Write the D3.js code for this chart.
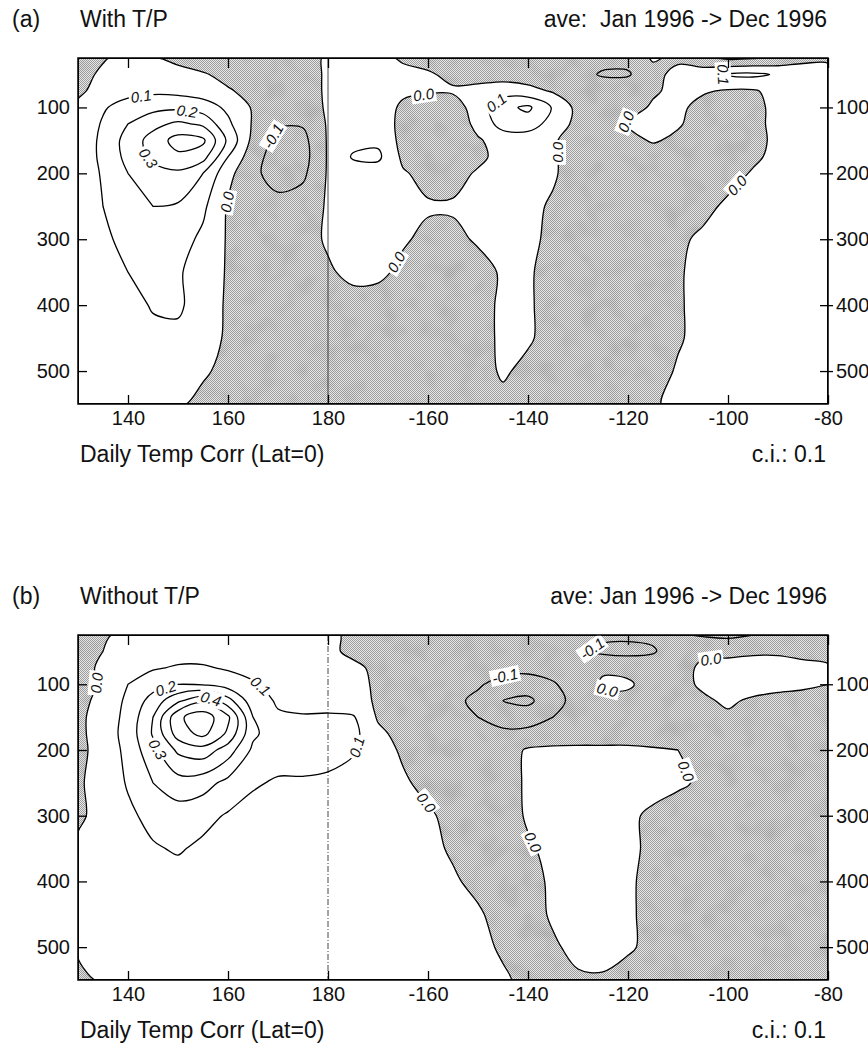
<!DOCTYPE html>
<html>
<head>
<meta charset="utf-8">
<script src="https://cdn.jsdelivr.net/npm/d3@7"></script>
<style>
body { margin: 0; background: #fff; }
text { font-family: "Liberation Sans", Arial, Helvetica, sans-serif; fill: #111; }
</style>
</head>
<body>
<svg id="chart" width="868" height="1045"></svg>
<script>
// grid columns (longitude, degrees east) and rows (depth, m)
var lons = [130,135,140,145,150,155,160,165,170,175,180,185,190,195,200,205,210,215,220,225,230,235,240,245,250,255,260,265,270,275,280];
var depths = [25,50,75,100,125,150,175,200,250,300,350,400,450,500,550];

// correlation x 100, one row per depth
var corrWith = [
  [-5,-1,3,1,-3,-6,-7,-6,-5,-3,1,3,2,-1,-3,-4,-5,-5,-5,-5,-5,-7,-7,1,-2,-8,-12,-11,-8,-4,-2],
  [-4,2,5,6,4,1,-3,-5,-5,-3,1,3,3,2,1,-2,-4,-4,-5,-6,-7,-11,-11,-3,3,6,11,12,9,8,4],
  [-2,4,7,8,7,5,1,-3,-4,-3,1,3,3,1,1,1,3,5,3,-1,-3,-4,-3,-1,2,1,-1,-1,3,4,4],
  [2,9,14,17,18,15,8,-1,-4,-4,1,3,3,-1,-5,-4,4,17,22,9,-3,-5,-3,1,2,-3,-5,-3,3,4,4],
  [3,11,20,27,32,28,12,-1,-9,-9,1,3,4,-2,-7,-7,3,14,15,6,-3,-5,1,3,1,-4,-6,-3,3,4,4],
  [4,12,24,34,44,42,18,-3,-13,-13,1,7,8,-3,-8,-8,-1,4,4,1,-4,-6,-3,1,-2,-5,-7,-4,3,4,4],
  [4,12,23,32,38,34,10,-6,-15,-14,1,11,12,-2,-8,-7,-2,3,3,1,-4,-7,-6,-5,-6,-7,-6,-2,3,4,4],
  [4,11,20,27,28,20,3,-8,-14,-12,1,5,5,1,-3,-3,1,3,3,1,-4,-7,-8,-8,-8,-7,-4,1,3,4,4],
  [3,10,16,20,19,12,-1,-6,-7,-5,1,4,4,2,1,1,2,3,2,-1,-5,-8,-9,-9,-7,-3,2,3,4,4,4],
  [2,8,13,15,14,8,-1,-4,-5,-3,1,3,3,1,-2,-2,1,3,2,-2,-6,-8,-9,-8,-2,2,3,4,4,4,4],
  [1,5,10,12,11,6,-1,-4,-5,-4,-1,2,2,-2,-4,-4,-3,1,1,-3,-6,-8,-8,-6,-1,3,4,4,4,4,4],
  [1,3,6,11,12,4,-1,-5,-6,-5,-4,-3,-4,-5,-5,-4,-2,1,1,-3,-6,-7,-7,-6,-1,3,4,4,4,4,4],
  [2,3,5,7,7,3,-1,-5,-6,-6,-5,-5,-5,-5,-5,-4,-2,1,1,-3,-6,-7,-7,-5,-1,3,4,4,4,4,4],
  [2,3,4,4,3,1,-2,-5,-6,-6,-6,-6,-6,-5,-5,-4,-3,1,-2,-5,-6,-7,-7,-4,1,3,4,4,4,4,4],
  [2,2,2,2,1,-2,-4,-5,-5,-5,-5,-5,-5,-5,-5,-4,-4,-2,-4,-5,-5,-5,-5,-1,2,3,3,3,3,3,3]
];

var corrWithout = [
  [-6,-1,2,3,3,3,3,3,2,2,1,-1,-3,-4,-5,-5,-6,-6,-6,-6,-7,-8,-8,-8,-9,-11,-12,-10,-8,-5,-4],
  [-5,0,3,5,6,6,5,4,3,2,1,-1,-3,-4,-5,-5,-6,-6,-7,-8,-9,-12,-13,-11,-4,-1,-2,-1,-1,-2,-3],
  [-4,2,6,9,11,11,9,7,5,3,2,1,-1,-3,-5,-5,-6,-7,-7,-6,-3,-1,-2,-4,-2,1,3,3,3,2,1],
  [-3,1,10,16,20,19,15,11,7,5,3,2,-1,-3,-5,-6,-9,-13,-15,-11,-5,1,1,-3,-2,1,3,3,2,1,0],
  [-3,3,12,24,38,48,34,14,9,6,4,3,-1,-4,-6,-8,-12,-20,-22,-14,-6,-2,-2,-4,-3,-1,1,-1,-2,-2,-2],
  [-2,4,13,30,58,66,52,20,11,11,12,11,-1,-5,-7,-8,-10,-14,-15,-10,-5,-4,-4,-4,-4,-3,-1,-3,-3,-3,-3],
  [-2,4,14,31,55,63,48,22,14,14,15,13,2,-3,-5,-7,-8,-8,-7,-6,-5,-5,-5,-5,-4,-3,-2,-3,-3,-3,-3],
  [-2,3,13,27,42,46,35,18,14,14,14,11,3,-1,-4,-6,-6,-4,1,2,2,2,2,1,0,-2,-3,-4,-4,-4,-4],
  [-1,3,11,20,26,24,17,11,9,9,8,6,3,1,-2,-4,-5,-3,1,3,3,3,3,2,1,-1,-3,-5,-5,-5,-5],
  [-1,2,8,13,15,13,9,7,6,5,5,4,3,2,1,-2,-4,-4,1,3,3,2,1,-1,-3,-4,-5,-5,-5,-5,-5],
  [1,2,6,9,11,8,6,5,4,4,4,3,3,2,2,-1,-3,-4,-1,2,3,3,1,-1,-3,-5,-5,-5,-5,-5,-5],
  [2,3,4,6,6,5,5,4,4,4,3,3,3,3,3,1,-2,-4,-2,1,3,3,1,-2,-3,-5,-5,-5,-5,-5,-5],
  [2,3,4,5,5,5,4,4,4,3,3,3,3,3,3,2,1,-3,-3,1,2,3,1,-2,-3,-5,-5,-5,-5,-5,-5],
  [1,2,3,4,4,4,4,3,3,3,3,3,3,2,2,2,2,-1,-3,-1,2,3,1,-2,-3,-5,-5,-5,-5,-5,-5],
  [-2,1,2,3,3,3,3,3,3,3,3,2,2,2,2,2,2,1,-2,-3,-1,-1,-3,-3,-4,-5,-5,-5,-5,-5,-5]
];

// contour levels (x 100), c.i. 0.1
var levels = [-30,-20,-10,0,10,20,30,40,50,60];

var xTicks = [140,160,180,200,220,240,260,280];
var xTickLabels = ["140","160","180","-160","-140","-120","-100","-80"];
var yTicks = [100,200,300,400,500];

var svg = d3.select("#chart");
var defs = svg.append("defs");

// stippled grey for negative correlation
var pat = defs.append("pattern")
  .attr("id", "stipple")
  .attr("patternUnits", "userSpaceOnUse")
  .attr("width", 2)
  .attr("height", 2);
pat.append("rect").attr("width", 2).attr("height", 2).attr("fill", "#e8e8e8");
pat.append("rect").attr("width", 1).attr("height", 1).attr("fill", "#9c9c9c");
pat.append("rect").attr("x", 1).attr("y", 1).attr("width", 1).attr("height", 1).attr("fill", "#9c9c9c");

// blotchy darker patches like the printed halftone
var mottle = defs.append("filter")
  .attr("id", "mottle")
  .attr("x", 0).attr("y", 0).attr("width", 1).attr("height", 1);
mottle.append("feTurbulence")
  .attr("type", "fractalNoise")
  .attr("baseFrequency", 0.05)
  .attr("numOctaves", 2)
  .attr("seed", 7);
mottle.append("feColorMatrix")
  .attr("type", "matrix")
  .attr("values", "0 0 0 0 0.3  0 0 0 0 0.3  0 0 0 0 0.3  2.2 0 0 0 -1.05");

var x = d3.scaleLinear().domain([130, 280]).range([78, 828]);
var colToLon = d3.scaleLinear().domain([0, lons.length - 1]).range([lons[0], lons[lons.length - 1]]).clamp(true);
var rowToDepth = d3.scaleLinear().domain(depths.map(function(d, i) { return i; })).range(depths).clamp(true);
var smooth = d3.line().curve(d3.curveCatmullRomClosed.alpha(0.5));

var panels = [
  {tag: "(a)", name: "With T/P", period: "ave:  Jan 1996 -> Dec 1996", values: corrWith, top: 58, bottom: 404, dash: null},
  {tag: "(b)", name: "Without T/P", period: "ave: Jan 1996 -> Dec 1996", values: corrWithout, top: 635, bottom: 980, dash: "6,2,1,2"}
];

panels.forEach(drawPanel);

function drawPanel(p) {
  var x0 = x.range()[0], x1 = x.range()[1];
  var y = d3.scaleLinear().domain([25, 550]).range([p.top, p.bottom]);
  var g = svg.append("g");

  var clipId = "clip" + p.top;
  defs.append("clipPath").attr("id", clipId)
    .append("rect")
    .attr("x", x0).attr("y", p.top)
    .attr("width", x1 - x0).attr("height", p.bottom - p.top);

  var flat = [];
  p.values.forEach(function(row) { row.forEach(function(v) { flat.push(v); }); });

  var contours = d3.contours()
    .size([lons.length, depths.length])
    .thresholds(levels)(flat);

  // grid space -> pixels (samples sit at cell centres)
  function proj(pt) {
    return [x(colToLon(pt[0] - 0.5)), y(rowToDepth(pt[1] - 0.5))];
  }
  function geomPath(c) {
    var s = "";
    c.coordinates.forEach(function(poly) {
      poly.forEach(function(ring) {
        var pts = ring.slice(0, -1).map(proj);
        if (pts.length > 2) s += smooth(pts);
      });
    });
    return s;
  }

  var plot = g.append("g").attr("clip-path", "url(#" + clipId + ")");

  plot.append("rect")
    .attr("x", x0).attr("y", p.top)
    .attr("width", x1 - x0).attr("height", p.bottom - p.top)
    .attr("fill", "url(#stipple)");

  plot.append("rect")
    .attr("x", x0).attr("y", p.top)
    .attr("width", x1 - x0).attr("height", p.bottom - p.top)
    .attr("fill", "#000")
    .attr("filter", "url(#mottle)")
    .attr("opacity", 0.35);

  var zero = contours.filter(function(c) { return c.value === 0; })[0];
  plot.append("path")
    .attr("d", geomPath(zero))
    .attr("fill", "#fff")
    .attr("fill-rule", "evenodd");

  // dateline
  plot.append("line")
    .attr("x1", x(180)).attr("x2", x(180))
    .attr("y1", p.top).attr("y2", p.bottom)
    .attr("stroke", "#333")
    .attr("stroke-width", 0.9)
    .attr("stroke-dasharray", p.dash);

  plot.selectAll("path.iso")
    .data(contours)
    .enter().append("path")
    .attr("class", "iso")
    .attr("d", geomPath)
    .attr("fill", "none")
    .attr("stroke", "#000")
    .attr("stroke-width", 1.3)
    .attr("stroke-linejoin", "round");

  // inline contour labels
  var placed = [];
  var labelG = g.append("g");

  function onEdge(q) {
    return q[0] <= x0 + 0.5 || q[0] >= x1 - 0.5 || q[1] <= p.top + 0.5 || q[1] >= p.bottom - 0.5;
  }
  function runs(pts) {
    var out = [], cur = [];
    pts.forEach(function(q) {
      if (onEdge(q)) { if (cur.length > 1) out.push(cur); cur = []; }
      else cur.push(q);
    });
    if (cur.length > 1) out.push(cur);
    return out;
  }
  function placeLabel(run, value) {
    var cum = [0];
    for (var i = 1; i < run.length; i++) {
      cum.push(cum[i - 1] + Math.hypot(run[i][0] - run[i - 1][0], run[i][1] - run[i - 1][1]));
    }
    var L = cum[cum.length - 1];
    if (L < 80) return;
    function at(s) {
      s = Math.max(0, Math.min(L, s));
      var k = 1;
      while (k < cum.length - 1 && cum[k] < s) k++;
      var t = (s - cum[k - 1]) / ((cum[k] - cum[k - 1]) || 1);
      return [run[k - 1][0] + t * (run[k][0] - run[k - 1][0]), run[k - 1][1] + t * (run[k][1] - run[k - 1][1])];
    }
    var fracs = L > 600 ? [0.3, 0.7, 0.5, 0.15, 0.85] : [0.5, 0.35, 0.65, 0.2, 0.8];
    var want = L > 600 ? 2 : 1, done = 0;
    fracs.forEach(function(f) {
      if (done >= want) return;
      var s = f * L, m = at(s), a = at(s - 10), b = at(s + 10);
      if (m[0] < x0 + 16 || m[0] > x1 - 16 || m[1] < p.top + 10 || m[1] > p.bottom - 10) return;
      if (placed.some(function(q) { return Math.hypot(q[0] - m[0], q[1] - m[1]) < 42; })) return;
      var deg = Math.atan2(b[1] - a[1], b[0] - a[0]) * 180 / Math.PI;
      if (deg > 90) deg -= 180;
      if (deg < -90) deg += 180;
      placed.push(m);
      done++;
      var lg = labelG.append("g")
        .attr("transform", "translate(" + m[0] + "," + m[1] + ") rotate(" + deg + ")");
      var bg = lg.append("rect").attr("fill", "#fff");
      var t = lg.append("text")
        .attr("text-anchor", "middle")
        .attr("dy", "0.36em")
        .attr("font-size", 15)
        .attr("font-style", "italic")
        .text((value / 100).toFixed(1));
      var w = t.node().getComputedTextLength();
      bg.attr("x", -w / 2 - 2).attr("y", -8).attr("width", w + 4).attr("height", 16);
    });
  }

  contours.forEach(function(c) {
    c.coordinates.forEach(function(poly) {
      poly.forEach(function(ring) {
        runs(ring.map(proj)).forEach(function(run) { placeLabel(run, c.value); });
      });
    });
  });

  // axes: ticks point inward
  var font = "\"Liberation Sans\", Arial, Helvetica, sans-serif";

  g.append("g")
    .attr("transform", "translate(0," + p.bottom + ")")
    .call(d3.axisBottom(x).tickValues(xTicks)
      .tickFormat(function(d, i) { return xTickLabels[i]; })
      .tickSizeInner(-9).tickSizeOuter(0).tickPadding(7))
    .attr("font-size", 20).attr("font-family", font)
    .call(function(a) { a.select(".domain").remove(); });

  g.append("g")
    .attr("transform", "translate(0," + p.top + ")")
    .call(d3.axisTop(x).tickValues(xTicks).tickFormat("")
      .tickSizeInner(-10).tickSizeOuter(0))
    .call(function(a) { a.select(".domain").remove(); });

  g.append("g")
    .attr("transform", "translate(" + x0 + ",0)")
    .call(d3.axisLeft(y).tickValues(yTicks)
      .tickSizeInner(-9).tickSizeOuter(0).tickPadding(8))
    .attr("font-size", 20).attr("font-family", font)
    .call(function(a) { a.select(".domain").remove(); });

  g.append("g")
    .attr("transform", "translate(" + x1 + ",0)")
    .call(d3.axisRight(y).tickValues(yTicks)
      .tickSizeInner(5).tickSizeOuter(0).tickPadding(3))
    .attr("font-size", 20).attr("font-family", font)
    .call(function(a) {
      a.select(".domain").remove();
      a.selectAll(".tick").append("line").attr("x1", -8).attr("x2", 0).attr("stroke", "currentColor");
    });

  g.selectAll(".tick line").attr("stroke-width", 1.3);

  g.append("rect")
    .attr("x", x0).attr("y", p.top)
    .attr("width", x1 - x0).attr("height", p.bottom - p.top)
    .attr("fill", "none")
    .attr("stroke", "#000")
    .attr("stroke-width", 1.5);

  // titles
  g.append("text").attr("x", 12).attr("y", p.top - 31).attr("font-size", 23).text(p.tag);
  g.append("text").attr("x", 80).attr("y", p.top - 31).attr("font-size", 23).text(p.name);
  g.append("text").attr("x", 827).attr("y", p.top - 31).attr("font-size", 23)
    .attr("text-anchor", "end").style("white-space", "pre").text(p.period);
  g.append("text").attr("x", 80).attr("y", p.bottom + 58).attr("font-size", 23)
    .text("Daily Temp Corr (Lat=0)");
  g.append("text").attr("x", 826).attr("y", p.bottom + 58).attr("font-size", 23)
    .attr("text-anchor", "end").text("c.i.: 0.1");
}
</script>
</body>
</html>
